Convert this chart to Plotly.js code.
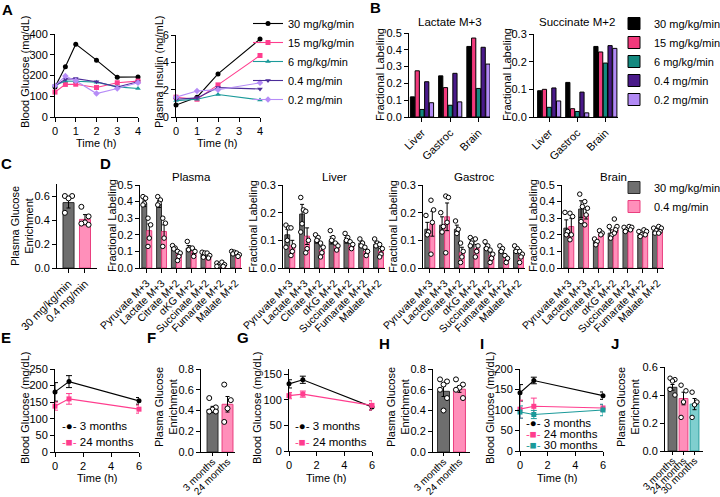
<!DOCTYPE html>
<html><head><meta charset="utf-8">
<script src="https://cdn.plot.ly/plotly-3.0.1.min.js"></script>
<style>html,body{margin:0;padding:0;background:#fff}#chart{width:720px;height:497px}</style>
</head><body><div id="chart"></div>
<script>
// ================= DATA =================
// Panel A
const A_groups = ['30 mg/kg/min', '15 mg/kg/min', '6 mg/kg/min', '0.4 mg/min', '0.2 mg/min'];
const A_glucoseTime = [0, 0.5, 1, 2, 3, 4];
const A_glucose_30 = [145, 242, 351, 274, 192, 193];
const A_glucose_15 = [120, 157, 158, 142, 165, 173];
const A_glucose_6 = [152, 173, 172, 168, 145, 137];
const A_glucose_04 = [150, 182, 185, 170, 145, 170];
const A_glucose_02 = [150, 197, 175, 113, 137, 165];
const A_insulinTime = [0, 1, 2, 4];
const A_insulin_30 = [0.88, 1.45, 3.15, 5.7];
const A_insulin_15 = [1.45, 1.3, 2.35, 4.5];
const A_insulin_6 = [1.2, 1.3, 1.65, 1.25];
const A_insulin_04 = [1.3, 1.4, 2.15, 2.05];
const A_insulin_02 = [1.45, 1.9, 2.0, 2.5];

// Panel B
const B_tissues = ['Liver', 'Gastroc', 'Brain'];
const B_lactate_30 = [0.12, 0.245, 0.42];
const B_lactate_15 = [0.275, 0.175, 0.47];
const B_lactate_6 = [0.045, 0.07, 0.17];
const B_lactate_04 = [0.21, 0.26, 0.415];
const B_lactate_02 = [0.085, 0.09, 0.315];
const B_succinate_30 = [0.095, 0.125, 0.255];
const B_succinate_15 = [0.1, 0.03, 0.235];
const B_succinate_6 = [0.035, 0.02, 0.195];
const B_succinate_04 = [0.105, 0.09, 0.258];
const B_succinate_02 = [0.058, 0.015, 0.248];

// Panel C
const C_groups = ['30 mg/kg/min', '0.4 mg/min'];
const C_mean = [0.545, 0.405];
const C_sem = [0.045, 0.04];
const C_points_30 = [0.6, 0.6, 0.58, 0.46];
const C_points_04 = [0.51, 0.43, 0.38, 0.37, 0.36];

// Panel D
const D_metabolites = ['Pyruvate M+3', 'Lactate M+3', 'Citrate M+2', 'αKG M+2', 'Succinate M+2', 'Fumarate M+2', 'Malate M+2'];
const D_plasma_30_mean = [0.39, 0.385, 0.12, 0.12, 0.08, 0.015, 0.09];
const D_plasma_30_sem = [0.02, 0.02, 0.01, 0.015, 0.01, 0.005, 0.005];
const D_plasma_30_pts = [[0.43, 0.42, 0.39, 0.38], [0.43, 0.41, 0.39, 0.38], [0.135, 0.12, 0.115], [0.16, 0.12, 0.11], [0.095, 0.09, 0.065], [0.03, 0.02, 0.01, 0.01], [0.1, 0.095, 0.085]];
const D_plasma_04_mean = [0.225, 0.22, 0.085, 0.1, 0.06, 0.015, 0.075];
const D_plasma_04_sem = [0.04, 0.04, 0.012, 0.012, 0.01, 0.008, 0.008];
const D_plasma_04_pts = [[0.3, 0.26, 0.18, 0.13], [0.3, 0.27, 0.18, 0.13], [0.1, 0.09, 0.07, 0.045], [0.12, 0.1, 0.07], [0.09, 0.075, 0.06], [0.035, 0.02, 0.01], [0.09, 0.08, 0.07]];
const D_liver_30_mean = [0.12, 0.195, 0.1, 0.1, 0.1, 0.09, 0.085];
const D_liver_30_sem = [0.02, 0.035, 0.01, 0.013, 0.01, 0.008, 0.008];
const D_liver_30_pts = [[0.155, 0.145, 0.1, 0.075], [0.255, 0.21, 0.16, 0.13], [0.12, 0.11, 0.1], [0.135, 0.11, 0.1], [0.125, 0.11, 0.1], [0.105, 0.09, 0.08], [0.105, 0.09, 0.08]];
const D_liver_04_mean = [0.08, 0.115, 0.065, 0.08, 0.08, 0.06, 0.06];
const D_liver_04_sem = [0.02, 0.03, 0.012, 0.01, 0.01, 0.008, 0.01];
const D_liver_04_pts = [[0.145, 0.08, 0.06, 0.045], [0.205, 0.1, 0.07, 0.055], [0.09, 0.075, 0.055, 0.04], [0.09, 0.08, 0.065], [0.095, 0.085, 0.07], [0.075, 0.06, 0.045], [0.085, 0.07, 0.05, 0.04]];
const D_gastroc_30_mean = [0.14, 0.155, 0.14, 0.09, 0.075, 0.065, 0.065];
const D_gastroc_30_sem = [0.025, 0.03, 0.015, 0.01, 0.01, 0.01, 0.008];
const D_gastroc_30_pts = [[0.19, 0.13, 0.12], [0.2, 0.15, 0.13], [0.17, 0.14, 0.125], [0.11, 0.1, 0.09, 0.08], [0.095, 0.08, 0.07], [0.08, 0.07, 0.06], [0.08, 0.07, 0.06]];
const D_gastroc_04_mean = [0.16, 0.185, 0.055, 0.07, 0.045, 0.035, 0.045];
const D_gastroc_04_sem = [0.045, 0.05, 0.02, 0.015, 0.01, 0.008, 0.01];
const D_gastroc_04_pts = [[0.245, 0.21, 0.165, 0.05], [0.26, 0.255, 0.165, 0.055], [0.09, 0.06, 0.04, 0.02], [0.105, 0.08, 0.06, 0.04], [0.065, 0.05, 0.035, 0.02], [0.045, 0.035, 0.02], [0.06, 0.05, 0.04, 0.02]];
const D_brain_30_mean = [0.24, 0.355, 0.16, 0.21, 0.23, 0.2, 0.22];
const D_brain_30_sem = [0.05, 0.05, 0.01, 0.02, 0.01, 0.01, 0.01];
const D_brain_30_pts = [[0.335, 0.22, 0.2], [0.445, 0.37, 0.28], [0.175, 0.16, 0.14], [0.25, 0.2, 0.18], [0.245, 0.23, 0.22], [0.22, 0.2, 0.19], [0.24, 0.225, 0.21]];
const D_brain_04_mean = [0.25, 0.325, 0.205, 0.23, 0.235, 0.21, 0.23];
const D_brain_04_sem = [0.05, 0.03, 0.01, 0.015, 0.008, 0.008, 0.008];
const D_brain_04_pts = [[0.33, 0.31, 0.2, 0.17], [0.4, 0.36, 0.32, 0.26], [0.225, 0.21, 0.2], [0.295, 0.25, 0.23, 0.21], [0.25, 0.245, 0.23], [0.23, 0.22, 0.2], [0.25, 0.24, 0.22, 0.21]];

// Panels E, G, I (time courses)
const age_time = [0, 1, 6];
const E_3mo = [181, 212, 154], E_3mo_sem = [28, 18, 10];
const E_24mo = [138, 160, 129], E_24mo_sem = [12, 16, 12];
const G_3mo = [131, 139, 86], G_3mo_sem = [8, 7, 6];
const G_24mo = [108, 111, 89], G_24mo_sem = [6, 6, 9];
const I_3mo = [142, 172, 135], I_3mo_sem = [20, 8, 9];
const I_24mo = [102, 109, 105], I_24mo_sem = [22, 20, 8];
const I_30mo = [95, 89, 100], I_30mo_sem = [15, 10, 14];

// Panels F, H, J (enrichment)
const age_groups = ['3 months', '24 months', '30 months'];
const F_mean = [0.41, 0.46], F_sem = [0.03, 0.075];
const F_pts_3mo = [0.52, 0.43, 0.41, 0.39, 0.39];
const F_pts_24mo = [0.65, 0.5, 0.42, 0.29];
const H_mean = [0.585, 0.605], H_sem = [0.05, 0.03];
const H_pts_3mo = [0.7, 0.68, 0.65, 0.6, 0.52, 0.4];
const H_pts_24mo = [0.7, 0.65, 0.62, 0.6, 0.52];
const J_mean = [0.455, 0.375, 0.335], J_sem = [0.02, 0.045, 0.04];
const J_pts_3mo = [0.52, 0.51, 0.5, 0.44, 0.4];
const J_pts_24mo = [0.47, 0.43, 0.35, 0.24];
const J_pts_30mo = [0.42, 0.35, 0.33, 0.24];

// ================= STYLE / BUILD =================
const FONT = 'Liberation Sans, Arial, Helvetica, sans-serif';
const W = 720, H = 497;
const fx = p => p / W;
const fy = p => 1 - p / H;
const COL = {black: '#000000', pink: '#ff3d8e', teal: '#1b9a9a', purple: '#4b2c98', lav: '#b68cf7'};
const BCOL = ['#000000', '#f2397c', '#13897f', '#4a1a8a', '#b28af5'];
const GRAY = '#6e6e6e', GRAYLINE = '#2b2b2b', PINKFILL = '#ff8fba', PINKLINE = '#ea3f7f', TEALFILL = '#7fcfcf', TEALLINE = '#2a9d9d';

const traces = [];
const annotations = [];
const layout = {
  width: W, height: H,
  margin: {l: 0, r: 0, t: 0, b: 0, autoexpand: false},
  paper_bgcolor: '#fff', plot_bgcolor: 'rgba(0,0,0,0)',
  font: {family: FONT, size: 11, color: '#000'},
  barmode: 'overlay', hovermode: false, showlegend: true,
  annotations: annotations
};

function mkAxes(n, px, py, xo, yo) {
  const s = n === 1 ? '' : String(n);
  const base = {showline: true, linecolor: '#000', linewidth: 1, ticks: 'outside', ticklen: 4, tickwidth: 1,
    tickcolor: '#000', showgrid: false, zeroline: false, fixedrange: true, layer: 'above traces',
    tickfont: {family: FONT, size: 11, color: '#000'}};
  layout['xaxis' + s] = Object.assign({}, base, {domain: [fx(px[0]), fx(px[1])], anchor: 'y' + s}, xo);
  layout['yaxis' + s] = Object.assign({}, base, {domain: [fy(py[1]), fy(py[0])], anchor: 'x' + s}, yo);
  return {x: 'x' + s, y: 'y' + s};
}

function addLine(ax, x, y, err, color, symbol, name, legend, showlegend) {
  const t = {type: 'scatter', mode: 'lines+markers', x: x, y: y, xaxis: ax.x, yaxis: ax.y, name: name,
    legend: legend, showlegend: !!showlegend, cliponaxis: false,
    line: {color: color, width: 1.1}, marker: {color: color, symbol: symbol, size: 5}};
  if (err) t.error_y = {type: 'data', array: err, visible: true, color: color, thickness: 1, width: 3};
  traces.push(t);
}

function addBars(ax, xs, ys, errs, fill, lineColor, width, name, legend, showlegend) {
  const t = {type: 'bar', x: xs, y: ys, width: width, xaxis: ax.x, yaxis: ax.y, name: name,
    legend: legend, showlegend: !!showlegend, marker: {color: fill, line: {color: lineColor, width: 1}}};
  if (errs) t.error_y = {type: 'data', array: errs, visible: true, color: '#000', thickness: 1, width: 2};
  traces.push(t);
}

const JIT = [-1, 1, 0, -1, 1, 0];
function addDots(ax, centers, groups, spread, size) {
  const x = [], y = [];
  groups.forEach((g, i) => g.forEach((v, j) => { x.push(centers[i] + JIT[j % JIT.length] * spread); y.push(v); }));
  traces.push({type: 'scatter', mode: 'markers', x: x, y: y, xaxis: ax.x, yaxis: ax.y, showlegend: false,
    cliponaxis: false, marker: {symbol: 'circle', size: size || 5, color: '#fff', line: {color: '#000', width: 1}}});
}

function txt(text, x, y, opts) {
  annotations.push(Object.assign({text: text, x: fx(x), y: fy(y), xref: 'paper', yref: 'paper', showarrow: false,
    xanchor: 'center', yanchor: 'middle', font: {family: FONT, size: 11, color: '#000'}}, opts || {}));
}
function ytitle(text, x, y) { txt(text, x, y, {textangle: -90}); }
function letter(l, x, y) { txt('<b>' + l + '</b>', x, y, {font: {family: FONT, size: 15, color: '#000'}}); }
function keyRow(label, color, glyph, x, y) {
  txt('<span style="color:' + color + '">-' + glyph + '-</span> ' + label, x, y,
    {xanchor: 'left', font: {family: FONT, size: 11.5, color: '#000'}});
}
const idx = arr => arr.map((_, i) => i);
const smallTicks = {family: FONT, size: 10, color: '#000'};
const ageX = {tickangle: -45, ticklen: 3, tickfont: smallTicks, ticklabelstandoff: -4};

// ---------- Panel A ----------
const axA1 = mkAxes(1, [55, 138], [34, 117], {range: [0, 4], tickvals: [0, 1, 2, 3, 4]}, {range: [0, 400], dtick: 100});
const A_gl = [A_glucose_30, A_glucose_15, A_glucose_6, A_glucose_04, A_glucose_02];
const A_in = [A_insulin_30, A_insulin_15, A_insulin_6, A_insulin_04, A_insulin_02];
const A_col = [COL.black, COL.pink, COL.teal, COL.purple, COL.lav];
const A_sym = ['circle', 'square', 'triangle-up', 'triangle-down', 'diamond'];
A_groups.forEach((g, k) => addLine(axA1, A_glucoseTime, A_gl[k], null, A_col[k], A_sym[k], g, 'legend', true));
const axA2 = mkAxes(2, [176, 260], [35, 117], {range: [0, 4], tickvals: [0, 1, 2, 3, 4]}, {range: [0, 6], dtick: 2});
A_groups.forEach((g, k) => addLine(axA2, A_insulinTime, A_in[k], null, A_col[k], A_sym[k], g, 'legend', false));
letter('A', 7, 9);
ytitle('Blood Glucose (mg/dL)', 25, 72);
ytitle('Plasma Insulin (ng/mL)', 159, 72);
txt('Time (h)', 96, 143);
txt('Time (h)', 218, 143);

// ---------- Panel B ----------
const B_lac = [B_lactate_30, B_lactate_15, B_lactate_6, B_lactate_04, B_lactate_02];
const B_suc = [B_succinate_30, B_succinate_15, B_succinate_6, B_succinate_04, B_succinate_02];
const bOff = k => (k - 2) * 0.168;
const axB1 = mkAxes(3, [409, 490], [33, 117], {range: [-0.46, 2.41], tickvals: idx(B_tissues), ticktext: B_tissues, tickangle: -45},
  {range: [0, 0.5], dtick: 0.1, tickformat: '.1f'});
B_lac.forEach((v, k) => addBars(axB1, idx(B_tissues).map(i => i + bOff(k)), v, null, BCOL[k], '#000', 0.15, A_groups[k], 'legend2', true));
const axB2 = mkAxes(4, [534, 618], [34, 117], {range: [-0.54, 2.45], tickvals: idx(B_tissues), ticktext: B_tissues, tickangle: -45},
  {range: [0, 0.3], dtick: 0.1, tickformat: '.1f'});
B_suc.forEach((v, k) => addBars(axB2, idx(B_tissues).map(i => i + bOff(k)), v, null, BCOL[k], '#000', 0.15, A_groups[k], 'legend2', false));
letter('B', 375, 8);
txt('Lactate M+3', 450, 22, {font: {family: FONT, size: 11.5, color: '#000'}});
txt('Succinate M+2', 577, 22, {font: {family: FONT, size: 11.5, color: '#000'}});
ytitle('Fractional Labeling', 380, 75);
ytitle('Fractional Labeling', 507, 75);

// ---------- Panel C ----------
const axC = mkAxes(5, [57, 97], [184, 268], {range: [-0.7, 1.73], tickvals: idx(C_groups), ticktext: C_groups, tickangle: -45},
  {range: [0, 0.7], tickvals: [0, 0.2, 0.4, 0.6], tickformat: '.1f'});
addBars(axC, [0], [C_mean[0]], [C_sem[0]], GRAY, GRAYLINE, 0.67, C_groups[0], 'legend', false);
addBars(axC, [1], [C_mean[1]], [C_sem[1]], PINKFILL, PINKLINE, 0.67, C_groups[1], 'legend', false);
addDots(axC, [0, 1], [C_points_30, C_points_04], 0.22);
letter('C', 6, 163);
ytitle('Plasma Glucose<br>Enrichment', 22, 226);

// ---------- Panel D ----------
const D_sets = [
  {name: 'Plasma', px: [140, 242], ymax: 0.5, m30: D_plasma_30_mean, s30: D_plasma_30_sem, p30: D_plasma_30_pts, m04: D_plasma_04_mean, s04: D_plasma_04_sem, p04: D_plasma_04_pts, yt: 112},
  {name: 'Liver', px: [283, 385], ymax: 0.3, m30: D_liver_30_mean, s30: D_liver_30_sem, p30: D_liver_30_pts, m04: D_liver_04_mean, s04: D_liver_04_sem, p04: D_liver_04_pts, yt: 253},
  {name: 'Gastroc', px: [423, 525], ymax: 0.3, m30: D_gastroc_30_mean, s30: D_gastroc_30_sem, p30: D_gastroc_30_pts, m04: D_gastroc_04_mean, s04: D_gastroc_04_sem, p04: D_gastroc_04_pts, yt: 393},
  {name: 'Brain', px: [562, 664], ymax: 0.5, m30: D_brain_30_mean, s30: D_brain_30_sem, p30: D_brain_30_pts, m04: D_brain_04_mean, s04: D_brain_04_sem, p04: D_brain_04_pts, yt: 533}
];
D_sets.forEach((d, n) => {
  const ax = mkAxes(6 + n, d.px, [185, 268],
    {range: [-0.46, 6.44], tickvals: idx(D_metabolites), ticktext: D_metabolites, tickangle: -45, tickfont: {family: FONT, size: 10.5, color: '#000'}},
    {range: [0, d.ymax], dtick: 0.1, tickformat: '.1f'});
  const xg = idx(D_metabolites).map(i => i - 0.17), xp = idx(D_metabolites).map(i => i + 0.17);
  addBars(ax, xg, d.m30, d.s30, GRAY, GRAYLINE, 0.33, '30 mg/kg/min', 'legend3', n === 0);
  addBars(ax, xp, d.m04, d.s04, PINKFILL, PINKLINE, 0.33, '0.4 mg/min', 'legend3', n === 0);
  addDots(ax, xg, d.p30, 0.09, 4.5);
  addDots(ax, xp, d.p04, 0.09, 4.5);
  txt(d.name, (d.px[0] + d.px[1]) / 2, 177, {font: {family: FONT, size: 11.5, color: '#000'}});
  ytitle('Fractional Labeling', d.yt, 226);
});
letter('D', 105, 163);

// ---------- Panel E ----------
const axE = mkAxes(10, [55, 139], [369, 452], {range: [0, 6], tickvals: [0, 2, 4, 6]}, {range: [0, 250], dtick: 50});
addLine(axE, age_time, E_3mo, E_3mo_sem, COL.black, 'circle', age_groups[0], 'legend', false);
addLine(axE, age_time, E_24mo, E_24mo_sem, COL.pink, 'square', age_groups[1], 'legend', false);
letter('E', 6, 337);
ytitle('Blood Glucose (mg/dL)', 25, 408);
txt('Time (h)', 98, 478);
keyRow(age_groups[0], COL.black, '●', 60, 426);
keyRow(age_groups[1], COL.pink, '■', 60, 442);

// ---------- Panel F ----------
const axF = mkAxes(11, [201, 235], [369, 452], Object.assign({range: [-0.77, 1.5], tickvals: [0, 1], ticktext: age_groups.slice(0, 2)}, ageX),
  {range: [0, 0.8], dtick: 0.2, tickformat: '.1f'});
addBars(axF, [0], [F_mean[0]], [F_sem[0]], GRAY, GRAYLINE, 0.73, age_groups[0], 'legend', false);
addBars(axF, [1], [F_mean[1]], [F_sem[1]], PINKFILL, PINKLINE, 0.73, age_groups[1], 'legend', false);
addDots(axF, [0, 1], [F_pts_3mo, F_pts_24mo], 0.22);
letter('F', 151, 337);
ytitle('Plasma Glucose<br>Enrichment', 166, 407);

// ---------- Panel G ----------
const axG = mkAxes(12, [289, 372], [369, 451], {range: [0, 6], tickvals: [0, 2, 4, 6]}, {range: [0, 160], tickvals: [0, 50, 100, 150]});
addLine(axG, age_time, G_3mo, G_3mo_sem, COL.black, 'circle', age_groups[0], 'legend', false);
addLine(axG, age_time, G_24mo, G_24mo_sem, COL.pink, 'square', age_groups[1], 'legend', false);
letter('G', 243, 337);
ytitle('Blood Glucose (mg/dL)', 257, 408);
txt('Time (h)', 326, 478);
keyRow(age_groups[0], COL.black, '●', 293, 426);
keyRow(age_groups[1], COL.pink, '■', 293, 442);

// ---------- Panel H ----------
const axH = mkAxes(13, [433, 470], [369, 452], Object.assign({range: [-0.66, 1.66], tickvals: [0, 1], ticktext: age_groups.slice(0, 2)}, ageX),
  {range: [0, 0.8], dtick: 0.2, tickformat: '.1f'});
addBars(axH, [0], [H_mean[0]], [H_sem[0]], GRAY, GRAYLINE, 0.75, age_groups[0], 'legend', false);
addBars(axH, [1], [H_mean[1]], [H_sem[1]], PINKFILL, PINKLINE, 0.75, age_groups[1], 'legend', false);
addDots(axH, [0, 1], [H_pts_3mo, H_pts_24mo], 0.22);
letter('H', 384, 343);
ytitle('Plasma Glucose<br>Enrichment', 398, 407);

// ---------- Panel I ----------
const axI = mkAxes(14, [520, 603], [369, 451], {range: [0, 6], tickvals: [0, 2, 4, 6]}, {range: [0, 200], dtick: 50});
addLine(axI, age_time, I_3mo, I_3mo_sem, COL.black, 'circle', age_groups[0], 'legend', false);
addLine(axI, age_time, I_24mo, I_24mo_sem, COL.pink, 'square', age_groups[1], 'legend', false);
addLine(axI, age_time, I_30mo, I_30mo_sem, COL.teal, 'square', age_groups[2], 'legend', false);
letter('I', 482, 343);
ytitle('Blood Glucose (mg/dL)', 490, 408);
txt('Time (h)', 557, 478);
keyRow(age_groups[0], COL.black, '●', 524, 423);
keyRow(age_groups[1], COL.pink, '■', 524, 434);
keyRow(age_groups[2], COL.teal, '■', 524, 445);

// ---------- Panel J ----------
const axJ = mkAxes(15, [665, 703], [367, 451], Object.assign({range: [-0.68, 2.77], tickvals: [0, 1, 2], ticktext: age_groups}, ageX),
  {range: [0, 0.6], dtick: 0.2, tickformat: '.1f'});
addBars(axJ, [0], [J_mean[0]], [J_sem[0]], GRAY, GRAYLINE, 0.8, age_groups[0], 'legend', false);
addBars(axJ, [1], [J_mean[1]], [J_sem[1]], PINKFILL, PINKLINE, 0.8, age_groups[1], 'legend', false);
addBars(axJ, [2], [J_mean[2]], [J_sem[2]], TEALFILL, TEALLINE, 0.8, age_groups[2], 'legend', false);
addDots(axJ, [0, 1, 2], [J_pts_3mo, J_pts_24mo, J_pts_30mo], 0.22, 4.5);
letter('J', 615, 343);
ytitle('Plasma Glucose<br>Enrichment', 628, 407);

// ---------- Legends ----------
const legBase = {xanchor: 'left', yanchor: 'top', bgcolor: 'rgba(0,0,0,0)', borderwidth: 0, tracegroupgap: 0,
  font: {family: FONT, size: 11, color: '#000'}, itemclick: false, itemdoubleclick: false};
layout.legend = Object.assign({}, legBase, {x: fx(248), y: fy(9)});
layout.legend2 = Object.assign({}, legBase, {x: fx(614), y: fy(9)});
layout.legend3 = Object.assign({}, legBase, {x: fx(614), y: fy(173)});

Plotly.newPlot('chart', traces, layout, {displayModeBar: false, staticPlot: true});
</script></body></html>
